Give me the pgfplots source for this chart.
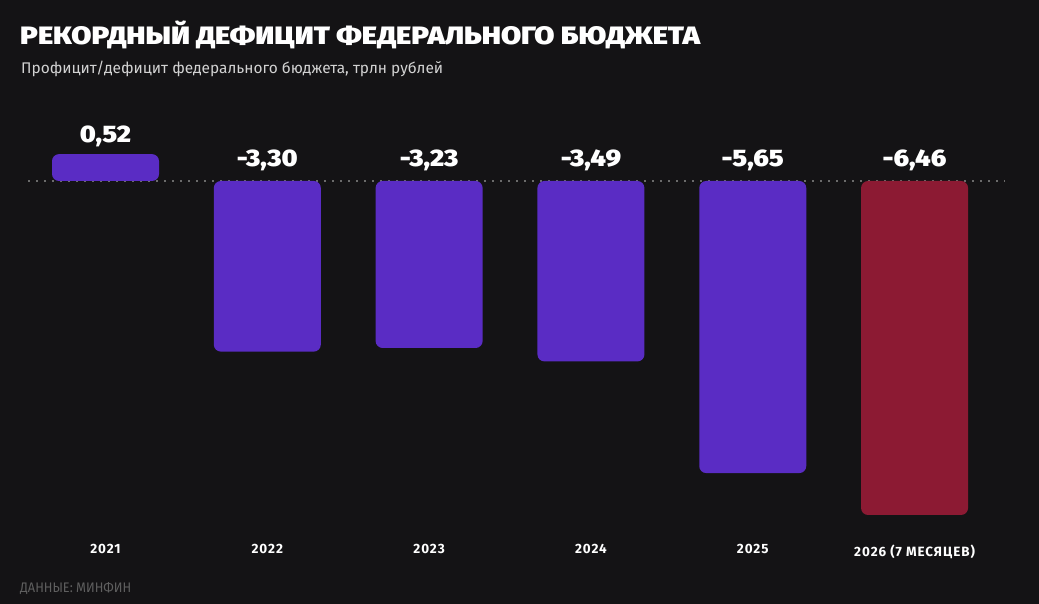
\documentclass[border=0pt]{standalone}
\usepackage{pgfplots}
\pgfplotsset{compat=1.18}
\usepackage{fontspec}
\setmainfont{Fira Sans}
\newfontfamily\blackfont{Fira Sans Black}
\newfontfamily\blackwide{Fira Sans Black}[FakeStretch=1.12]
\definecolor{bg}{HTML}{141315}
\definecolor{barp}{HTML}{5A2CC4}
\definecolor{barr}{HTML}{8C1A33}
\definecolor{dotc}{HTML}{6B6B6B}
\definecolor{srcc}{HTML}{5F5F5F}
\definecolor{subc}{HTML}{D2D2D2}
\begin{document}
\begin{tikzpicture}[x=1bp,y=1bp]
\fill[bg] (0,0) rectangle (1039,604);
\node[anchor=base west, inner sep=0pt, text=white] at (20,559) {\resizebox{680bp}{18.5bp}{\blackfont\fontsize{26}{30}\selectfont РЕКОРДНЫ\smash{Й} ДЕФИЦИТ ФЕДЕРАЛЬНОГО БЮДЖЕТА}};
\node[anchor=base west, inner sep=0pt, text=subc] at (21,530) {\resizebox{422bp}{!}{\fontsize{15}{18}\selectfont Профицит/дефицит федерального бюджета, трлн рублей}};
\node[anchor=base west, inner sep=0pt, text=srcc] at (20,11) {\resizebox{111bp}{10bp}{\fontsize{13}{15}\selectfont ДАННЫЕ: МИНФИН}};
\begin{axis}[
  at={(28bp,61.1bp)}, anchor=south west,
  scale only axis, width=977bp, height=413.6bp,
  xmin=-0.479, xmax=5.559, ymin=-7, ymax=1,
  axis line style={draw=none},
  major tick length=0pt,
  ytick=\empty,
  xtick={0,1,2,3,4,5},
  xticklabels={2021,2022,2023,2024,2025,2026 (7 МЕСЯЦЕВ)},
  xticklabel style={anchor=north, inner sep=0pt, yshift=-1.5bp, text=white,
    font={\bfseries\addfontfeatures{LetterSpace=7}\fontsize{13.5}{15}\selectfont}},
  clip=false,
]
\addplot[dotc, line width=1.6bp, dash pattern=on 1.6bp off 6.4bp, forget plot] coordinates {(-0.479,0) (5.559,0)};
\addplot[ybar, bar width=107bp, bar shift=0pt, fill=barp, draw=none, rounded corners=7bp, forget plot]
  coordinates {(0,0.52) (1,-3.30) (2,-3.23) (3,-3.49) (4,-5.65)};
\addplot[ybar, bar width=107bp, bar shift=0pt, fill=barr, draw=none, rounded corners=7bp, forget plot]
  coordinates {(5,-6.46)};
\addplot[draw=none, mark=none, forget plot, nodes near coords, point meta=explicit symbolic,
  every node near coord/.style={anchor=south, inner sep=0pt, yshift=7bp, text=white,
    font={\blackwide\fontsize{24}{28}\selectfont}}]
  coordinates {(0,0.52)[0{,}52]};
\addplot[draw=none, mark=none, forget plot, nodes near coords, point meta=explicit symbolic,
  every node near coord/.style={anchor=south, inner sep=0pt, yshift=9.5bp, text=white,
    font={\blackwide\fontsize{24}{28}\selectfont}}]
  coordinates {(1,0)[-3{,}30] (2,0)[-3{,}23] (3,0)[-3{,}49] (4,0)[-5{,}65] (5,0)[-6{,}46]};
\end{axis}
\pgfresetboundingbox
\useasboundingbox (0,0) rectangle (1039,604);
\end{tikzpicture}
\end{document}
